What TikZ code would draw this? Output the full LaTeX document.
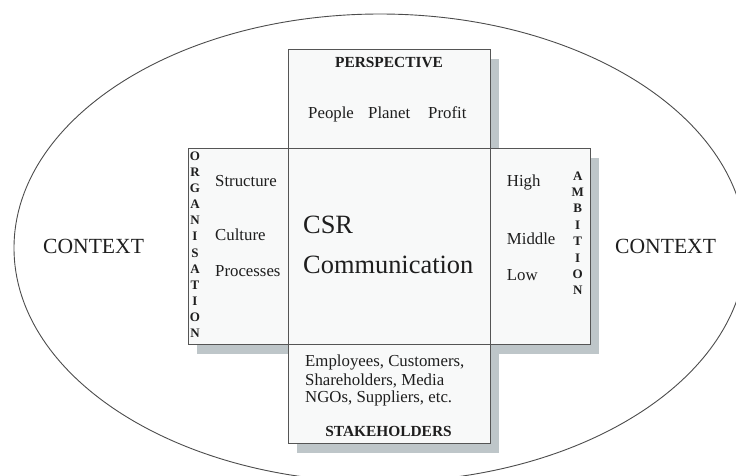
\documentclass[tikz,border=0pt]{standalone}
\usepackage{fontspec}
\setmainfont{Liberation Serif}
\definecolor{shadowc}{HTML}{BEC6C9}
\definecolor{boxfill}{HTML}{F8F9F9}
\definecolor{linec}{HTML}{555555}
\definecolor{txt}{HTML}{1E1E1E}
\tikzset{
  shadowbox/.style={fill=shadowc, draw=none},
  panel/.style={fill=boxfill, draw=linec, line width=1pt},
  divline/.style={draw=linec, line width=1pt},
  lbl/.style={inner sep=0pt, anchor=base west, text=txt, font=\fontsize{16.8}{19}\selectfont},
  biglbl/.style={inner sep=0pt, anchor=base west, text=txt, font=\fontsize{21.6}{25}\selectfont},
  csrlbl/.style={inner sep=0pt, anchor=base west, text=txt, font=\fontsize{26.4}{30}\selectfont},
  headlbl/.style={inner sep=0pt, anchor=base, text=txt, font=\bfseries\fontsize{15.4}{18}\selectfont},
  vletter/.style={inner sep=0pt, anchor=base, text=txt, font=\bfseries\fontsize{13}{15}\selectfont},
}
\begin{document}
\begin{tikzpicture}[x=1pt,y=-1pt]
\useasboundingbox (0,0) rectangle (736,475);
% context ellipse
\draw[color=linec!90!black, line width=0.9pt] (380,248) ellipse [x radius=366, y radius=234];
% shadows
\fill[shadowbox] (297,58.5) rectangle (499,157.5);
\fill[shadowbox] (197,157.5) rectangle (599,353.5);
\fill[shadowbox] (297,353.5) rectangle (499,452.5);
% panels
\filldraw[panel] (288,49) rectangle (490,148);
\filldraw[panel] (288,344) rectangle (490,443);
\filldraw[panel] (188,148) rectangle (590,344);
\draw[divline] (288,148) -- (288,344);
\draw[divline] (490,148) -- (490,344);
% texts
\node[headlbl] (persp) at (389,67) {PERSPECTIVE};
\node[lbl] (people) at (308,118) {People};
\node[lbl] (planet) at (368,118) {Planet};
\node[lbl] (profit) at (428,118) {Profit};
\foreach \l [count=\i from 0] in {O,R,G,A,N,I,S,A,T,I,O,N}
  \node[vletter] (org\i) at (195,{160.7+16.05*\i}) {\l};
\node[lbl] (structure) at (215,186.7) {Structure};
\node[lbl] (culture) at (215,240) {Culture};
\node[lbl] (processes) at (215,276.7) {Processes};
\node[csrlbl] (csr) at (303,233.3) {CSR};
\node[csrlbl] (comm) at (303,273.3) {Communication};
\node[lbl] (high) at (506.7,186.7) {High};
\node[lbl] (middle) at (506.7,244) {Middle};
\node[lbl] (low) at (506.7,280) {Low};
\foreach \l [count=\i from 0] in {A,M,B,I,T,I,O,N}
  \node[vletter] (amb\i) at (577.7,{180+16.4*\i}) {\l};
\node[biglbl] (ctxl) at (43,253) {CONTEXT};
\node[biglbl] (ctxr) at (615,253) {CONTEXT};
\node[lbl] (emp) at (305,366.7) {Employees, Customers,};
\node[lbl] (share) at (305,385) {Shareholders, Media};
\node[lbl] (ngo) at (305,402.7) {NGOs, Suppliers, etc.};
\node[headlbl] (stake) at (388.5,436.7) {STAKEHOLDERS};
\end{tikzpicture}
\end{document}
